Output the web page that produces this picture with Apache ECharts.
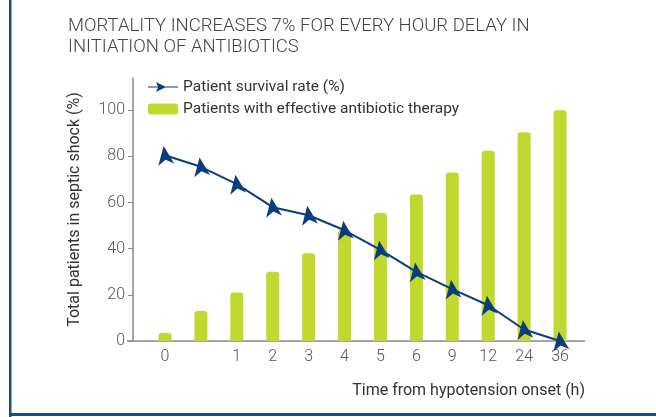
<!DOCTYPE html>
<html lang="en">
<head>
  <meta charset="UTF-8">
  <script src="https://cdn.jsdelivr.net/npm/echarts@6/dist/echarts.min.js"></script>
  <style>
    body, html { margin: 0; padding: 0; width: 100%; height: 100%; background: #fff; overflow: hidden; }
    #main { width: 656px; height: 417px; }
  </style>
</head>
<body>
  <div id="main"></div>
  <script type="text/javascript">
    // hours since hypotension onset (second slot has no label in the original)
    var hours = ['0', '', '1', '2', '3', '4', '5', '6', '9', '12', '24', '36'];
    var survival = [80.5, 75.5, 68, 58, 54.5, 48, 39.5, 30, 22.5, 15.5, 5, 0];
    var effective = [3.5, 13, 21, 30, 38, 48, 55.5, 63.5, 73, 82.5, 90.5, 100];
    var yTicks = [0, 20, 40, 60, 80, 100];

    var FONT = 'Roboto, "Noto Sans", sans-serif';
    var ARROW = 'path://M6,0 L12,15 L6,11 L0,15 Z';
    var myChart = echarts.init(document.getElementById('main'));

    var option = {
      backgroundColor: '#fff',
      animation: false,
      textStyle: { fontFamily: FONT },
      title: [{
        text: 'MORTALITY INCREASES 7% FOR EVERY HOUR DELAY IN\nINITIATION OF ANTIBIOTICS',
        left: 63, top: 11,
        textStyle: { fontFamily: FONT, fontSize: 18.5, fontWeight: 300, color: '#444', lineHeight: 21 }
      }, {
        text: 'Time from hypotension onset (h)',
        right: 66, top: 378,
        textStyle: { fontFamily: FONT, fontSize: 16, fontWeight: 'normal', color: '#333' }
      }],
      legend: {
        orient: 'vertical',
        left: 143, top: 74,
        itemWidth: 30, itemHeight: 11, itemGap: 6,
        textStyle: { fontFamily: FONT, fontSize: 15.5, color: '#333' },
        data: [
          {
            name: 'Patient survival rate (%)',
            icon: 'path://M0,4.4 L10,4.4 L8,0 L18,5 L8,10 L10,5.6 L0,5.6 Z M16,4.4 L30,4.4 L30,5.6 L16,5.6 Z',
            itemStyle: { color: '#0b3d7e' }
          },
          { name: 'Patients with effective antibiotic therapy', icon: 'roundRect' }
        ]
      },
      grid: { left: 147, right: 78, top: 78, bottom: 76 },
      xAxis: {
        type: 'category',
        data: hours,
        axisLine: { show: false },
        axisTick: {
          alignWithLabel: true, length: 6,
          interval: function (i) { return hours[i] !== ''; },
          lineStyle: { color: '#888' }
        },
        axisLabel: { fontFamily: FONT, fontSize: 16, color: '#555', margin: 8, interval: 0, fontWeight: 300 }
      },
      yAxis: {
        type: 'value',
        min: yTicks[0], max: 114, interval: 20,
        offset: 14,
        name: 'Total patients in septic shock (%)',
        nameLocation: 'middle', nameGap: 50,
        nameTextStyle: { fontFamily: FONT, fontSize: 16, color: '#333' },
        axisLine: { show: true, lineStyle: { color: '#888', width: 1.5 } },
        axisTick: { show: true, length: 5, lineStyle: { color: '#888' } },
        splitLine: { show: false },
        axisLabel: {
          fontFamily: FONT, fontSize: 16, color: '#555', margin: 8, fontWeight: 300,
          showMaxLabel: false,
          formatter: function (v) { return yTicks.indexOf(v) >= 0 ? v : ''; }
        }
      },
      graphic: [
        { type: 'line', shape: { x1: 127, y1: 341, x2: 585, y2: 341 }, style: { stroke: '#888', lineWidth: 1.5 }, z: 1 },
        { type: 'rect', shape: { x: 9, y: 0, width: 2.5, height: 417 }, style: { fill: '#1b4c8c' } },
        { type: 'rect', shape: { x: 9, y: 413, width: 656, height: 3 }, style: { fill: '#1b4c8c' } }
      ],
      series: [{
        name: 'Patients with effective antibiotic therapy',
        type: 'bar',
        data: effective,
        barWidth: 13,
        itemStyle: { color: '#c1d82f', borderRadius: [3, 3, 0, 0] },
        z: 2
      }, {
        name: 'Patient survival rate (%)',
        type: 'line',
        data: survival,
        symbol: ARROW,
        symbolSize: [16, 19],
        symbolRotate: 8,
        lineStyle: { color: '#0b3d7e', width: 2 },
        itemStyle: { color: '#0b3d7e' },
        z: 3
      }]
    };

    myChart.setOption(option);
  </script>
</body>
</html>
